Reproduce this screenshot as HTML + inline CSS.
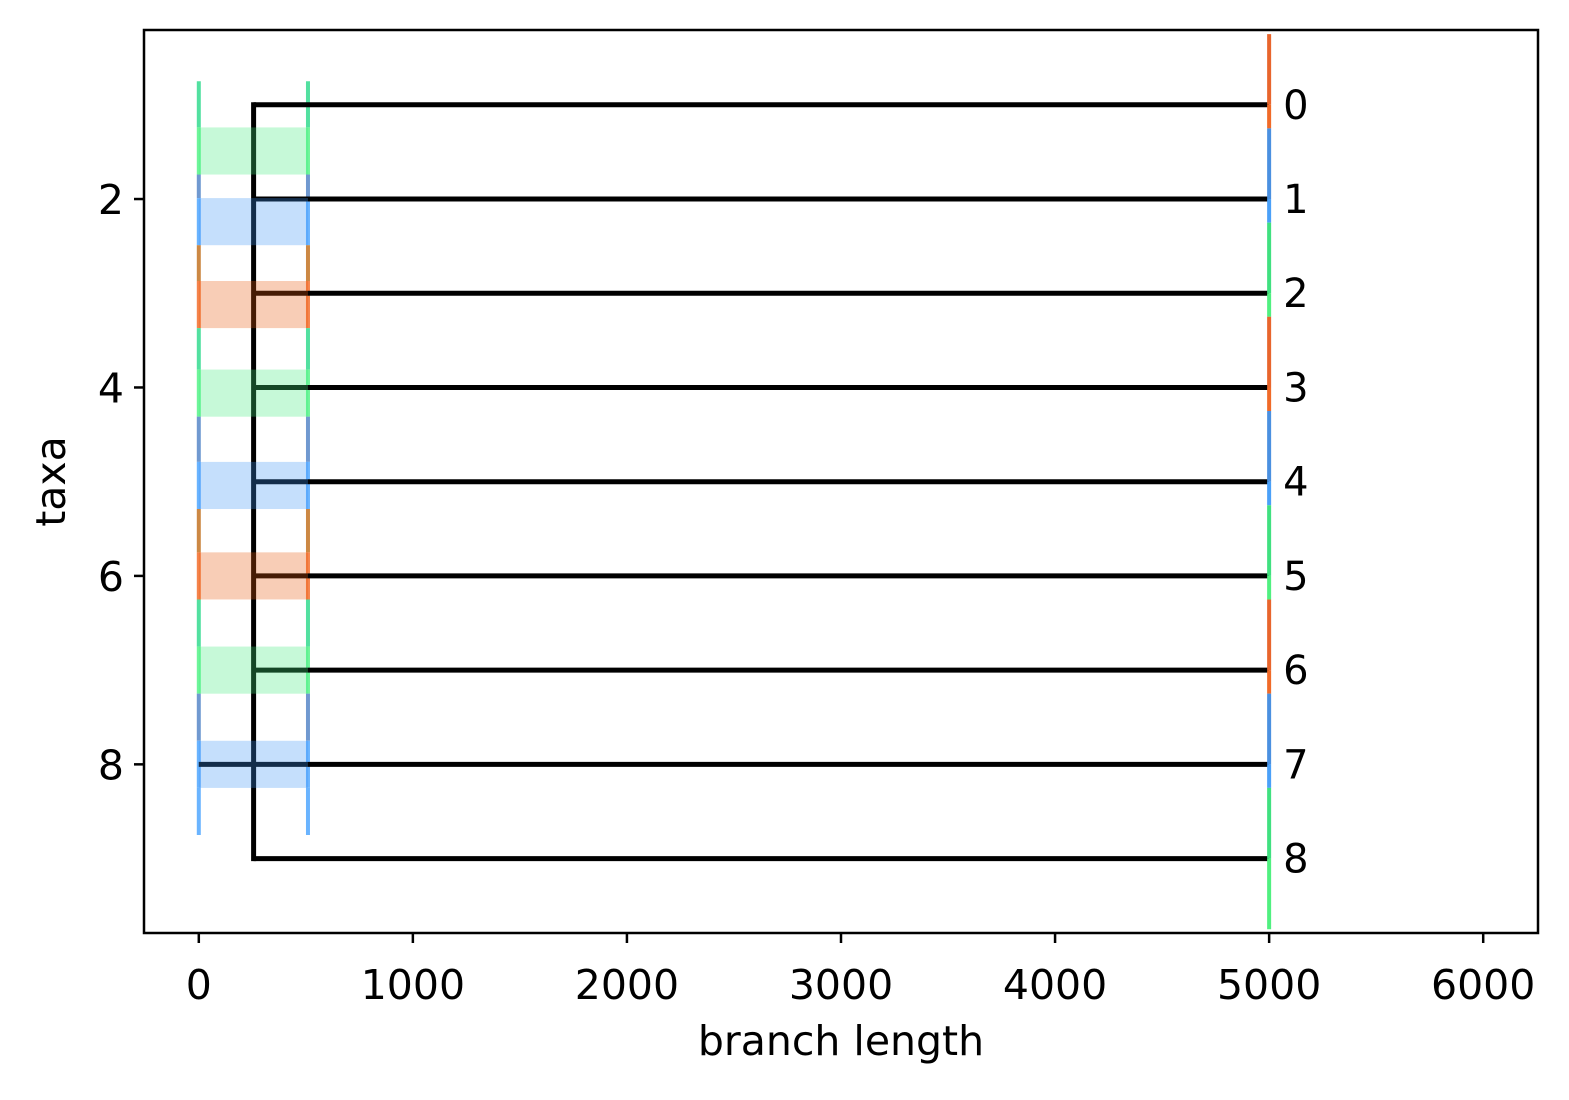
<!DOCTYPE html>
<html><head><meta charset="utf-8"><style>
body{margin:0;background:#fff;}
svg text{font-family:"DejaVu Sans","Liberation Sans",sans-serif;}
</style></head><body>
<svg id="chart" width="1569" height="1095" xmlns="http://www.w3.org/2000/svg">
<rect width="1569" height="1095" fill="#fff"/>
<g id="marks"></g>
<g id="axes"></g>
</svg>
<script>
const taxa=["0","1","2","3","4","5","6","7","8"];
const tipPos=[1,2,3,4,5,6,7,8,9];
const tipLength=[5000,5000,5000,5000,5000,5000,5000,5000,5000];
const branchStart=[256,256,256,256,256,256,256,0,256];
const rootX=256;
const boxCenters=[1.49,2.24,3.12,4.06,5.04,6.0,7.0,8.0];
const boxKinds=["g","b","o","g","b","o","g","b"];
const boxLo=[0];const boxHi=[510];
const xTicks=[0,1000,2000,3000,4000,5000,6000];
const yTicks=[2,4,6,8];
const tipColorKinds=["o","b","g","o","b","g","o","b","g"];

const L=144,R=1538,T=30,B=933;
const xMin=-256,xMax=6256,yMin=0.206,yMax=9.79;
const X=v=>L+(v-xMin)/(xMax-xMin)*(R-L);
const Y=v=>T+(v-yMin)/(yMax-yMin)*(B-T);
const NS="http://www.w3.org/2000/svg";
const marks=document.getElementById('marks'),axes=document.getElementById('axes');
function mk(tag,attrs,parent){const e=document.createElementNS(NS,tag);for(const k in attrs)e.setAttribute(k,attrs[k]);parent.appendChild(e);return e;}
const fillC={g:"#41eb7d",b:"#3e94f5",o:"#e8580c"};
const strong={g:"#6ef59a",b:"#6ab4ff",o:"#f5844c"};
const muted={g:"#52e0a0",b:"#7099d0",o:"#cc8844"};
const tipUp={o:"#e8652c",b:"#4a90e0",g:"#40e080"};
const tipDown={o:"#f06a28",b:"#4aa0f8",g:"#50f080"};

[boxLo[0],boxHi[0]].forEach(v=>{
  let prev=0.75;
  boxCenters.forEach((c,i)=>{
    const k=boxKinds[i];
    let l=mk('line',{x1:X(v),x2:X(v),y1:Y(prev),y2:Y(c-0.25),stroke:muted[k],'stroke-width':4},marks);
    
    
    l=mk('line',{x1:X(v),x2:X(v),y1:Y(c-0.25),y2:Y(c+0.25),stroke:strong[k],'stroke-width':4},marks);
    
    
    prev=c+0.25;
  });
  const l=mk('line',{x1:X(v),x2:X(v),y1:Y(prev),y2:Y(8.75),stroke:strong.b,'stroke-width':4},marks);
  
  
});
const rl=mk('line',{x1:X(rootX),x2:X(rootX),y1:Y(tipPos[0])-2.5,y2:Y(tipPos[8])+2.5,stroke:"#000",'stroke-width':5},marks);


tipPos.forEach((p,i)=>{
  const l=mk('line',{x1:X(branchStart[i]),x2:X(tipLength[i]),y1:Y(p),y2:Y(p),stroke:"#000",'stroke-width':5},marks);
  
  
});
boxCenters.forEach((c,i)=>{
  const r=mk('rect',{x:X(boxLo[0]),y:Y(c-0.25),width:X(boxHi[0])-X(boxLo[0]),height:Y(c+0.25)-Y(c-0.25),fill:fillC[boxKinds[i]],'fill-opacity':0.3},marks);
  
  
});
tipPos.forEach((p,i)=>{
  const k=tipColorKinds[i];
  const end=i===8?p+0.75:p+0.25;
  let l=mk('line',{x1:X(5000),x2:X(5000),y1:Y(p-0.75),y2:Y(p),stroke:tipUp[k],'stroke-width':4},marks);
  
  
  l=mk('line',{x1:X(5000),x2:X(5000),y1:Y(p),y2:Y(end),stroke:tipDown[k],'stroke-width':4},marks);
  
  
  const t=mk('text',{x:X(5000)+14,y:Y(p)+14,'font-size':40,fill:"#000"},marks);
  t.textContent=taxa[i];
  
  
});
const fr=mk('rect',{x:L,y:T,width:R-L,height:B-T,fill:"none",stroke:"#000",'stroke-width':2.5},axes);


xTicks.forEach(v=>{
  const l=mk('line',{x1:X(v),x2:X(v),y1:B,y2:B+10,stroke:"#000",'stroke-width':2.5},axes);
  
  
  const t=mk('text',{x:X(v),y:B+66,'font-size':41,'text-anchor':'middle'},axes);
  t.textContent=v;
  
  
});
yTicks.forEach(v=>{
  const l=mk('line',{x1:L-10,x2:L,y1:Y(v),y2:Y(v),stroke:"#000",'stroke-width':2.5},axes);
  
  
  const t=mk('text',{x:L-20,y:Y(v)+15,'font-size':41,'text-anchor':'end'},axes);
  t.textContent=v;
  
  
});
const xt=mk('text',{x:841,y:1055,'font-size':41,'text-anchor':'middle'},axes);
xt.textContent='branch length';


const yt=mk('text',{x:0,y:0,'font-size':41,'text-anchor':'middle',transform:'translate(65,'+((T+B)/2)+') rotate(-90)'},axes);
yt.textContent='taxa';


</script>
</body></html>
